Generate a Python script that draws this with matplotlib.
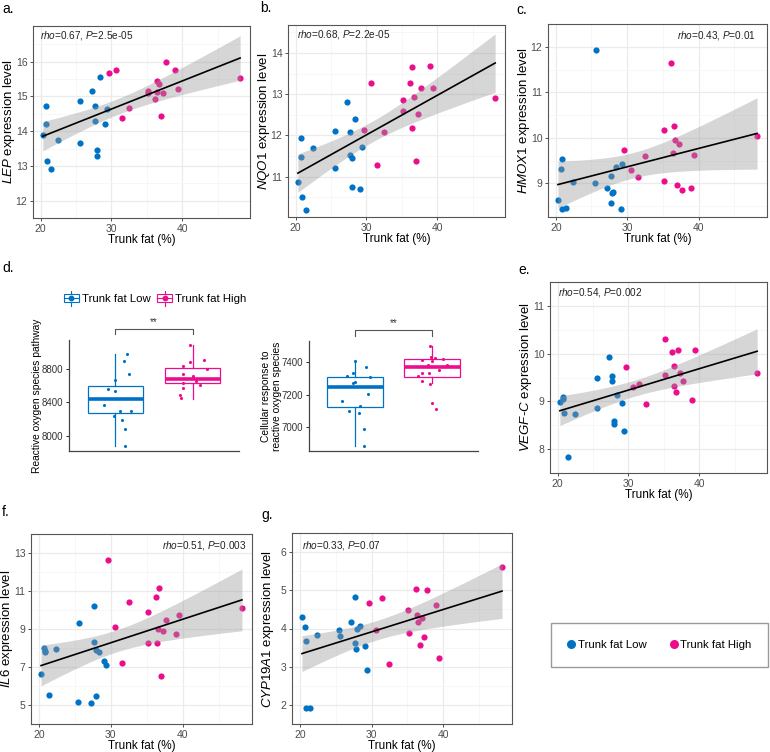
import numpy as np
import matplotlib
matplotlib.use('Agg')
import matplotlib.pyplot as plt
from matplotlib.lines import Line2D
from matplotlib.patches import Rectangle
from matplotlib.legend_handler import HandlerBase

plt.rcParams['font.family'] = ['Liberation Sans', 'DejaVu Sans']
plt.rcParams['mathtext.fontset'] = 'custom'
plt.rcParams['mathtext.rm'] = 'Liberation Sans'
plt.rcParams['mathtext.it'] = 'Liberation Sans:italic'

BLUE = '#0072C6'
PINK = '#EC0C8C'

# trunk fat (%) of the low / high groups
fat_low = [20.3, 20.7, 20.8, 20.9, 21.4, 22.4, 25.5, 25.6, 27.2, 27.7, 27.7, 27.9, 28.0, 28.4, 29.1, 29.3]
fat_high = [29.6, 30.6, 31.5, 32.5, 35.1, 35.2, 36.2, 36.4, 36.5, 36.7, 37.0, 37.3, 37.7, 39.0, 39.4, 48.2]

# expression levels, same sample order as above
lep_low = [13.9, 14.74, 14.2, 13.14, 12.9, 13.74, 14.88, 13.67, 15.15, 14.74, 14.3, 13.47, 13.3, 15.55, 14.2, 14.65]
lep_high = [15.69, 15.77, 14.38, 14.66, 15.15, 15.1, 14.92, 15.14, 15.46, 15.36, 14.43, 15.1, 15.99, 15.77, 15.21, 15.54]
nqo1_low = [10.87, 11.94, 11.47, 10.5, 10.2, 11.69, 12.1, 11.2, 12.8, 12.08, 11.53, 11.46, 10.76, 12.41, 10.71, 11.73]
nqo1_high = [12.12, 13.28, 11.28, 12.09, 12.85, 12.6, 13.27, 12.17, 13.67, 12.94, 11.38, 12.53, 13.15, 13.68, 13.14, 12.92]
hmox1_low = [8.63, 9.31, 9.53, 8.44, 8.46, 9.03, 9.01, 11.92, 8.9, 9.16, 8.56, 8.79, 8.8, 9.35, 8.43, 9.43]
hmox1_high = [9.73, 9.29, 9.14, 9.59, 10.17, 9.05, 11.65, 9.66, 10.25, 9.95, 8.96, 9.87, 8.86, 8.9, 9.63, 10.05]
vegfc_low = [8.99, 9.04, 9.1, 8.75, 7.83, 8.74, 9.49, 8.87, 9.92, 9.54, 9.43, 8.58, 8.52, 9.13, 8.96, 8.39]
vegfc_high = [9.73, 9.3, 9.37, 8.94, 10.31, 9.55, 10.03, 9.74, 9.33, 9.19, 10.07, 9.6, 9.43, 9.02, 10.07, 9.6]
il6_low = [6.62, 7.98, 7.84, 7.8, 5.52, 7.94, 5.15, 9.33, 5.12, 10.23, 8.33, 7.92, 5.47, 7.8, 7.32, 7.08]
il6_high = [12.63, 9.13, 7.19, 10.42, 8.24, 9.9, 10.68, 8.24, 9.01, 11.15, 6.55, 8.91, 9.47, 8.76, 9.76, 10.1]
cyp_low = [4.31, 4.05, 3.66, 1.92, 1.92, 3.82, 3.95, 3.8, 4.16, 4.83, 3.62, 3.46, 3.98, 4.06, 3.55, 2.91]
cyp_high = [4.67, 3.95, 4.8, 3.07, 4.48, 3.87, 5.04, 4.35, 4.16, 3.57, 4.28, 3.77, 5.0, 4.61, 3.22, 5.62]

stat_labels = ['0.67, $\\mathit{P}$=2.5e-05', '0.68, $\\mathit{P}$=2.2e-05', '0.43, $\\mathit{P}$=0.01',
               '0.54, $\\mathit{P}$=0.002', '0.51, $\\mathit{P}$=0.003', '0.33, $\\mathit{P}$=0.07']

# box plot summaries (whislo, q1, median, q3, whishi)
ros_low_box = [7875, 8277, 8442, 8591, 8977]
ros_high_box = [8446, 8627, 8675, 8812, 9089]
cell_low_box = [6882, 7122, 7247, 7309, 7408]
cell_high_box = [7274, 7309, 7369, 7419, 7499]

# jittered sample points (value, horizontal jitter)
ros_low_pts = [8977, 8892, 8671, 8744, 8563, 8535, 8370, 8302, 8293, 8233, 8189, 8080, 7875]
ros_low_jit = [0.15, 0.11, -0.01, 0.18, -0.09, -0.01, -0.15, 0.06, 0.2, -0.02, 0.08, 0.12, 0.12]
ros_high_pts = [9089, 8888, 8905, 8836, 8804, 8740, 8712, 8691, 8655, 8627, 8607, 8571, 8494, 8454]
ros_high_jit = [-0.03, -0.03, 0.15, -0.12, 0.19, -0.13, 0.0, -0.0, 0.05, -0.13, 0.09, -0.13, -0.16, -0.15]
cell_low_pts = [7408, 7369, 7313, 7332, 7307, 7270, 7276, 7204, 7163, 7130, 7097, 7087, 6988, 6880]
cell_low_jit = [0.0, 0.14, -0.1, -0.03, 0.19, -0.03, 0.0, 0.17, -0.17, 0.07, -0.08, 0.05, 0.11, 0.11]
cell_high_pts = [7499, 7435, 7414, 7425, 7419, 7408, 7386, 7386, 7351, 7334, 7336, 7318, 7282, 7264, 7146, 7113]
cell_high_jit = [-0.03, -0.01, -0.13, 0.04, 0.15, 0.0, -0.05, 0.19, 0.09, -0.13, -0.04, -0.18, -0.13, -0.03, -0.0, 0.05]

W, H = 770, 752
fig = plt.figure(figsize=(W / 100, H / 100), dpi=100)


def rect(l, t, r, b):
    return [l / W, 1 - b / H, (r - l) / W, (b - t) / H]


def scatter_panel(box, ylow, yhigh, gene, stat, stat_pos, ylim, yticks):
    ax = fig.add_axes(rect(*box))
    width = box[2] - box[0]
    x = np.array(fat_low + fat_high)
    y = np.array(ylow + yhigh)
    n = len(x)
    b1, b0 = np.polyfit(x, y, 1)
    xs = np.linspace(x.min(), x.max(), 100)
    yhat = b0 + b1 * xs
    s = np.sqrt(np.sum((y - (b0 + b1 * x)) ** 2) / (n - 2))
    se = s * np.sqrt(1 / n + (xs - x.mean()) ** 2 / np.sum((x - x.mean()) ** 2))
    t = 2.042
    ax.scatter(fat_low, ylow, s=20, color=BLUE, lw=0, zorder=2)
    ax.scatter(fat_high, yhigh, s=20, color=PINK, lw=0, zorder=2)
    ax.fill_between(xs, yhat - t * se, yhat + t * se, color='#999999', alpha=0.4, lw=0, zorder=3)
    ax.plot(xs, yhat, color='black', lw=1.2, zorder=4)

    rng = x.max() - x.min()
    ax.set_xlim(x.min() - 0.05 * rng, x.max() + 0.05 * rng)
    ax.set_ylim(*ylim)
    ax.set_xticks([20, 30, 40])
    ax.set_xticks([25, 35, 45], minor=True)
    ax.set_yticks(yticks)
    step = yticks[1] - yticks[0]
    ax.set_yticks([v - step / 2 for v in yticks] + [yticks[-1] + step / 2], minor=True)
    ax.grid(which='major', color='#EBEBEB', lw=0.9)
    ax.grid(which='minor', color='#F4F4F4', lw=0.5)
    ax.set_axisbelow(True)
    ax.tick_params(which='major', length=2.5, width=0.6, color='#333333', labelsize=7.5,
                   labelcolor='#4D4D4D', pad=1.5)
    ax.tick_params(which='minor', length=0)
    for sp in ax.spines.values():
        sp.set_color('#555555')
        sp.set_linewidth(0.8)
    ax.set_xlabel('Trunk fat (%)', fontsize=8.5, labelpad=0)
    if gene == 'VEGF-C':
        ylabel = '$\\mathit{VEGF}$-$\\mathit{C}$ expression level'
    else:
        ylabel = '$\\mathit{' + gene + '}$ expression level'
    ax.set_ylabel(ylabel, fontsize=9.5)
    ax.yaxis.set_label_coords(-16 / width, 0.5)
    ha = 'left' if stat_pos[0] < 0.5 else 'right'
    ax.text(stat_pos[0], stat_pos[1], '$\\mathit{rho}$=' + stat, transform=ax.transAxes,
            ha=ha, va='center', fontsize=7.2, color='#222222', zorder=5)
    return ax


scatter_panel((33, 26, 250, 218), lep_low, lep_high, 'LEP', stat_labels[0], (0.03, 0.953),
              (11.78, 17.03), [12, 13, 14, 15, 16])
scatter_panel((288, 25, 505, 217), nqo1_low, nqo1_high, 'NQO1', stat_labels[1], (0.04, 0.948),
              (10.02, 14.68), [11, 12, 13, 14])
scatter_panel((548, 24, 767, 217), hmox1_low, hmox1_high, 'HMOX1', stat_labels[2], (0.95, 0.943),
              (8.26, 12.19), [9, 10, 11, 12])
scatter_panel((550, 282, 767, 473), vegfc_low, vegfc_high, 'VEGF-C', stat_labels[3], (0.038, 0.946),
              (7.67, 11.12), [8, 9, 10, 11])
scatter_panel((31, 534, 252, 724), il6_low, il6_high, 'IL6', stat_labels[4], (0.976, 0.939),
              (4.74, 13.02), [5, 7, 9, 11, 13])
scatter_panel((292, 533, 512, 724), cyp_low, cyp_high, 'CYP19A1', stat_labels[5], (0.044, 0.934),
              (1.73, 6.19), [2, 3, 4, 5, 6])


def box_panel(box, low_box, high_box, low_pts, low_jit, high_pts, high_jit, ylabel, ylim, yticks):
    ax = fig.add_axes(rect(*box))
    width = box[2] - box[0]
    stats = []
    for b in (low_box, high_box):
        stats.append({'whislo': b[0], 'q1': b[1], 'med': b[2], 'q3': b[3], 'whishi': b[4]})
    art = ax.bxp(stats, positions=[1, 2], widths=0.72, showfliers=False, showcaps=False,
                 patch_artist=True)
    for i, c in enumerate([BLUE, PINK]):
        art['boxes'][i].set(facecolor='white', edgecolor=c, lw=0.9)
        art['medians'][i].set(color=c, lw=2.6, solid_capstyle='butt')
        for w in art['whiskers'][2 * i:2 * i + 2]:
            w.set(color=c, lw=0.9)
    ax.scatter(1 + np.array(low_jit), low_pts, s=5, color=BLUE, lw=0, zorder=4)
    ax.scatter(2 + np.array(high_jit), high_pts, s=5, color=PINK, lw=0, zorder=4)
    ax.set_xlim(0.4, 2.6)
    ax.set_ylim(*ylim)
    ax.set_yticks(yticks)
    ax.set_xticks([])
    for side in ('top', 'right'):
        ax.spines[side].set_visible(False)
    for side in ('left', 'bottom'):
        ax.spines[side].set_color('#444444')
        ax.spines[side].set_linewidth(0.9)
    ax.tick_params(axis='y', length=2.5, width=0.6, labelsize=7, labelcolor='#333333', pad=2)
    ax.set_ylabel(ylabel, fontsize=7.4, linespacing=1.15)
    ax.yaxis.set_label_coords(-27 / width, 0.5)
    tr = ax.get_xaxis_transform()
    ax.plot([1, 1, 2, 2], [1.05, 1.10, 1.10, 1.05], color='#555555', lw=0.8, transform=tr, clip_on=False)
    ax.text(1.5, 1.115, '**', transform=tr, ha='center', va='bottom', fontsize=7, color='#333333')
    return ax


d1 = box_panel((69, 340, 239, 451), ros_low_box, ros_high_box, ros_low_pts, ros_low_jit,
               ros_high_pts, ros_high_jit, 'Reactive oxygen species pathway', (7815, 9150),
               [8000, 8400, 8800])
box_panel((309, 341, 478, 451), cell_low_box, cell_high_box, cell_low_pts, cell_low_jit,
          cell_high_pts, cell_high_jit, 'Cellular response to\nreactive oxygen species', (6851, 7532),
          [7000, 7200, 7400])


class BoxKey(HandlerBase):
    def create_artists(self, legend, orig_handle, xdescent, ydescent, width, height, fontsize, trans):
        c = orig_handle.get_color()
        x0, y0 = -xdescent, -ydescent
        cx, cy = x0 + width / 2, y0 + height / 2
        whisk = Line2D([cx, cx], [y0 - height * 0.35, y0 + height * 1.35], color=c, lw=0.8, transform=trans)
        body = Rectangle((x0, y0 + height * 0.05), width, height * 0.9, facecolor='white',
                         edgecolor=c, lw=0.8, transform=trans)
        med = Line2D([x0, x0 + width], [cy, cy], color=c, lw=0.8, transform=trans)
        dot = Line2D([cx], [cy], marker='o', ms=3.2, color=c, lw=0, transform=trans)
        return [whisk, body, med, dot]


box_handles = [Line2D([], [], color=BLUE), Line2D([], [], color=PINK)]
d1.legend(box_handles, ['Trunk fat Low', 'Trunk fat High'], handler_map={Line2D: BoxKey()},
          loc='center', bbox_to_anchor=(155 / W, 1 - 299 / H), bbox_transform=fig.transFigure,
          ncol=2, frameon=False, fontsize=8.2, handlelength=1.3, handleheight=0.8,
          handletextpad=0.25, columnspacing=0.6)

dot_handles = [Line2D([], [], marker='o', ls='', ms=6.5, color=BLUE, mew=0),
               Line2D([], [], marker='o', ls='', ms=6.5, color=PINK, mew=0)]
leg = fig.legend(dot_handles, ['Trunk fat Low', 'Trunk fat High'], loc='center',
                 bbox_to_anchor=(659.5 / W, 1 - 645 / H), ncol=2, fontsize=8.2, fancybox=False,
                 borderpad=1.5, handlelength=0.6, handletextpad=0.25, columnspacing=2.1,
                 borderaxespad=0)
leg.get_frame().set_edgecolor('#808080')
leg.get_frame().set_linewidth(1.0)

letters = [('a.', 2, 2), ('b.', 260, 1), ('c.', 516, 3), ('d.', 2, 261), ('e.', 518, 263),
           ('f.', 2, 505), ('g.', 261, 508)]
for lab, lx, ly in letters:
    fig.text(lx / W, 1 - ly / H, lab, fontsize=10, ha='left', va='top')

fig.savefig('out.png', dpi=100, facecolor='white')
